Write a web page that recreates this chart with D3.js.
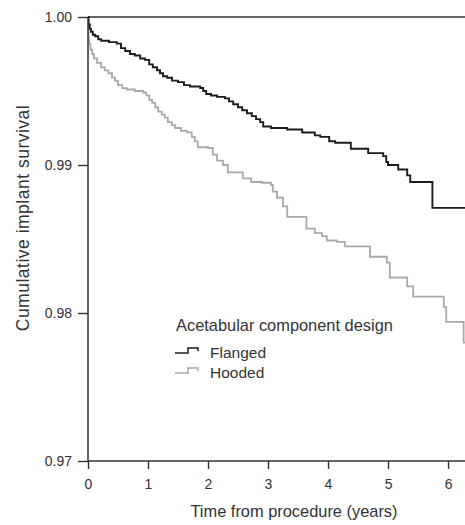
<!DOCTYPE html>
<html>
<head>
<meta charset="utf-8">
<script src="https://cdn.jsdelivr.net/npm/d3@7"></script>
<style>
  body { margin: 0; background: #fff; }
  svg { display: block; }
  text { font-family: "Liberation Sans", Arial, sans-serif; fill: #333; }
</style>
</head>
<body>
<svg id="chart" width="465" height="525"></svg>
<script>
// ---- data ----
const xTicks = [0, 1, 2, 3, 4, 5, 6];
const yTicks = [0.97, 0.98, 0.99, 1.00];
const seriesNames = ["Flanged", "Hooded"];

const flangedTime = [0, 0.01, 0.03, 0.05, 0.08, 0.12, 0.17, 0.22, 0.35, 0.48, 0.55, 0.62, 0.70, 0.78, 0.87, 0.95,
  1.02, 1.08, 1.15, 1.20, 1.25, 1.32, 1.40, 1.50, 1.60, 1.70, 1.87, 1.92, 1.97, 2.05, 2.15, 2.28, 2.35, 2.42,
  2.50, 2.57, 2.65, 2.73, 2.80, 2.87, 2.92, 3.05, 3.32, 3.57, 3.78, 3.87, 4.02, 4.12, 4.38, 4.67, 4.92, 4.97,
  5.00, 5.17, 5.32, 5.37, 5.74, 6.30];
const flangedSurv = [1.0, 0.9995, 0.9992, 0.9990, 0.9988, 0.9987, 0.9985, 0.9984, 0.9983, 0.9982, 0.9979, 0.9977,
  0.9975, 0.9974, 0.9972, 0.9971, 0.9968, 0.9966, 0.9964, 0.9962, 0.9960, 0.9959, 0.9957, 0.9956, 0.9954, 0.9953,
  0.9952, 0.9950, 0.9948, 0.9947, 0.9946, 0.9945, 0.9943, 0.9941, 0.9939, 0.9937, 0.9935, 0.9933, 0.9931, 0.9929,
  0.9926, 0.9925, 0.9924, 0.9922, 0.9920, 0.9919, 0.9916, 0.9915, 0.9911, 0.9908, 0.9906, 0.9902, 0.9900, 0.9897,
  0.9893, 0.98885, 0.9871, 0.9871];

const hoodedTime = [0, 0.005, 0.01, 0.02, 0.04, 0.07, 0.10, 0.15, 0.22, 0.28, 0.34, 0.40, 0.45, 0.50, 0.57, 0.65,
  0.78, 0.92, 0.97, 1.02, 1.07, 1.12, 1.17, 1.23, 1.28, 1.33, 1.40, 1.45, 1.55, 1.65, 1.73, 1.78, 1.83, 2.00,
  2.08, 2.15, 2.25, 2.33, 2.58, 2.72, 2.90, 3.05, 3.08, 3.15, 3.25, 3.32, 3.64, 3.78, 3.90, 3.98, 4.15, 4.28,
  4.70, 4.98, 5.03, 5.32, 5.42, 5.93, 5.97, 6.26, 6.30];
const hoodedSurv = [1.0, 0.9990, 0.9985, 0.9982, 0.9978, 0.9975, 0.9972, 0.9969, 0.9966, 0.9964, 0.9962, 0.9959,
  0.9957, 0.9954, 0.9952, 0.9951, 0.9950, 0.9949, 0.9947, 0.9944, 0.9942, 0.9939, 0.9936, 0.9934, 0.9932, 0.9929,
  0.9927, 0.9925, 0.9923, 0.9922, 0.9919, 0.9916, 0.9912, 0.99115, 0.9907, 0.9903, 0.9900, 0.9895, 0.9891, 0.98885,
  0.9888, 0.98865, 0.9882, 0.9878, 0.9872, 0.9865, 0.9857, 0.9854, 0.9852, 0.9849, 0.9848, 0.9845, 0.9838, 0.9834,
  0.9824, 0.9818, 0.9811, 0.9804, 0.9794, 0.9780, 0.97635, 0.97635];

// ---- layout ----
const svg = d3.select("#chart");
const mLeft = 88, mTop = 17, mBottom = 461, mRight = 465;
const x = d3.scaleLinear().domain([0, 6.283]).range([mLeft, mRight]);
const y = d3.scaleLinear().domain([0.97, 1.0]).range([mBottom, mTop]);

svg.append("clipPath").attr("id", "clip")
  .append("rect").attr("x", mLeft).attr("y", 0).attr("width", mRight - mLeft).attr("height", mBottom);

// horizontal line at 1.00
svg.append("line").attr("x1", mLeft).attr("x2", mRight).attr("y1", y(1.0)).attr("y2", y(1.0))
  .attr("stroke", "#333").attr("stroke-width", 1.5);

const line = d3.line().x(d => x(d[0])).y(d => y(d[1])).curve(d3.curveStepAfter);
const flanged = flangedTime.map((t, i) => [t, flangedSurv[i]]);
const hooded = hoodedTime.map((t, i) => [t, hoodedSurv[i]]);

svg.append("path").attr("d", line(hooded)).attr("fill", "none")
  .attr("stroke", "#a9a9a9").attr("stroke-width", 1.8).attr("clip-path", "url(#clip)");
svg.append("path").attr("d", line(flanged)).attr("fill", "none")
  .attr("stroke", "#1c1c1c").attr("stroke-width", 1.9).attr("clip-path", "url(#clip)");

// axes
const xAxis = svg.append("g").attr("transform", `translate(0,${mBottom})`)
  .call(d3.axisBottom(x).tickValues(xTicks).tickFormat(d3.format("d")).tickSize(8).tickPadding(10));
const yAxis = svg.append("g").attr("transform", `translate(${mLeft},0)`)
  .call(d3.axisLeft(y).tickValues(yTicks).tickFormat(d3.format(".2f")).tickSize(10).tickPadding(6));

[xAxis, yAxis].forEach(g => {
  g.select(".domain").remove();
  g.selectAll(".tick line").attr("stroke", "#333").attr("stroke-width", 1.4);
  g.selectAll(".tick text").attr("font-size", 14).attr("fill", "#333")
    .style("font-family", "'Liberation Sans', Arial, sans-serif");
});

// axis lines
svg.append("line").attr("x1", mLeft).attr("x2", mRight).attr("y1", mBottom).attr("y2", mBottom)
  .attr("stroke", "#333").attr("stroke-width", 1.5);
svg.append("line").attr("x1", mLeft).attr("x2", mLeft).attr("y1", mTop).attr("y2", mBottom)
  .attr("stroke", "#333").attr("stroke-width", 1.5);

// axis titles
svg.append("text").attr("x", 294).attr("y", 517).attr("text-anchor", "middle")
  .attr("font-size", 16.4).text("Time from procedure (years)");
svg.append("text").attr("transform", "translate(29,218) rotate(-90)").attr("text-anchor", "middle")
  .attr("font-size", 17.5).attr("letter-spacing", 0.5).text("Cumulative implant survival");

// legend
const lg = svg.append("g");
lg.append("text").attr("x", 176).attr("y", 331).attr("font-size", 16.4).text("Acetabular component design");
const legendColors = ["#1c1c1c", "#a9a9a9"];
seriesNames.forEach((name, i) => {
  const yy = 353 + i * 20;
  lg.append("path")
    .attr("d", `M175,${yy} H188 V${yy - 5} H198 V${yy - 2}`)
    .attr("fill", "none").attr("stroke", legendColors[i]).attr("stroke-width", 1.5);
  lg.append("text").attr("x", 210).attr("y", yy + 5).attr("font-size", 15.5).text(name);
});
</script>
</body>
</html>
